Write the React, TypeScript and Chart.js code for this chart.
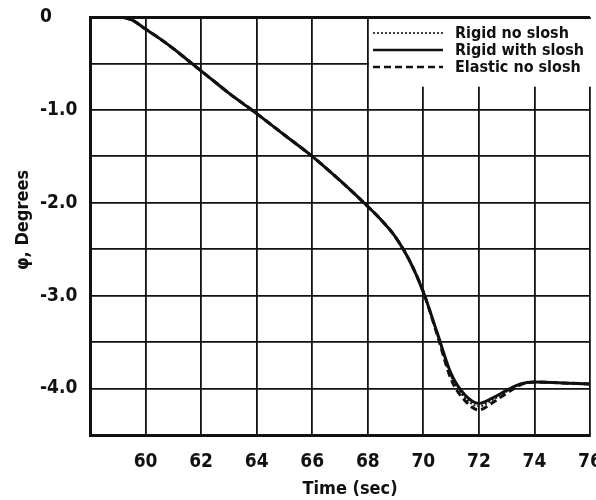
import React, { useEffect, useRef } from "react";
import { Chart, registerables } from "chart.js";

Chart.register(...registerables);

// ---- data ----
const timeSec = [58, 59, 59.5, 60, 60.5, 61, 61.5, 62, 62.5, 63, 63.5, 64, 65, 66, 67, 68, 68.5, 69, 69.5, 70, 70.5, 71, 71.5, 72, 72.5, 73, 73.5, 74, 75, 76];
const rigidNoSlosh = [0, 0, -0.03, -0.13, -0.23, -0.34, -0.46, -0.58, -0.7, -0.82, -0.93, -1.04, -1.27, -1.5, -1.76, -2.04, -2.19, -2.37, -2.62, -2.96, -3.42, -3.87, -4.1, -4.19, -4.12, -4.03, -3.95, -3.93, -3.94, -3.95];
const rigidWithSlosh = [0, 0, -0.03, -0.13, -0.23, -0.34, -0.46, -0.58, -0.7, -0.82, -0.93, -1.04, -1.27, -1.5, -1.76, -2.04, -2.19, -2.37, -2.62, -2.96, -3.4, -3.84, -4.07, -4.16, -4.1, -4.02, -3.95, -3.93, -3.94, -3.95];
const elasticNoSlosh = [0, 0, -0.03, -0.13, -0.23, -0.34, -0.46, -0.58, -0.7, -0.82, -0.93, -1.04, -1.27, -1.5, -1.76, -2.04, -2.19, -2.37, -2.62, -2.96, -3.42, -3.9, -4.13, -4.23, -4.15, -4.05, -3.96, -3.93, -3.94, -3.95];

const seriesLabels = ["Rigid no slosh", "Rigid with slosh", "Elastic no slosh"];
const xTickValues = [60, 62, 64, 66, 68, 70, 72, 74, 76];
const yTickValues = [0, -1, -2, -3, -4];
const yTickLabels = ["0", "-1.0", "-2.0", "-3.0", "-4.0"];
const xTitle = "Time (sec)";
const yTitle = "\u03C6, Degrees";

const FONT = "'DejaVu Sans', sans-serif";
const INK = "#111111";

const titlesAndLegend = {
  id: "titlesAndLegend",
  afterDatasetsDraw(chart: any) {
    const { ctx, chartArea, scales } = chart;
    const xs = scales.x;
    const ys = scales.y;
    ctx.save();
    // legend box (white, covering grid)
    const bx = xs.getPixelForValue(68) + 1.2;
    const by = chartArea.top + 2;
    const bb = ys.getPixelForValue(-0.75);
    ctx.fillStyle = "#ffffff";
    ctx.fillRect(bx, by, chart.width - bx, bb - by);
    const ds = chart.data.datasets;
    ctx.font = `bold condensed 16px ${FONT}`;
    ctx.textBaseline = "middle";
    ctx.textAlign = "left";
    for (let i = 0; i < ds.length; i++) {
      const y = by + 14 + i * 17;
      ctx.beginPath();
      ctx.strokeStyle = INK;
      ctx.lineWidth = i === 0 ? 1.6 : 2.6;
      ctx.setLineDash(ds[i].borderDash || []);
      ctx.moveTo(bx + 4, y);
      ctx.lineTo(bx + 74, y);
      ctx.stroke();
      ctx.setLineDash([]);
      ctx.fillStyle = INK;
      ctx.fillText(ds[i].label, bx + 86, y + 1);
    }
    ctx.restore();
  },
  afterDraw(chart: any) {
    const { ctx } = chart;
    ctx.save();
    ctx.fillStyle = INK;
    ctx.font = `bold condensed 18px ${FONT}`;
    ctx.textAlign = "center";
    ctx.textBaseline = "middle";
    ctx.fillText(xTitle, 350, 489);
    ctx.translate(23, 220);
    ctx.rotate(-Math.PI / 2);
    ctx.fillText(yTitle, 0, 0);
    ctx.restore();
  },
};

export default function App() {
  const ref = useRef<HTMLCanvasElement>(null);
  useEffect(() => {
    if (!ref.current) return;
    const chart = new Chart(ref.current, {
      type: "line",
      data: {
        datasets: [
          {
            label: seriesLabels[0],
            data: timeSec.map((t, i) => ({ x: t, y: rigidNoSlosh[i] })),
            borderColor: INK,
            borderWidth: 2,
            borderDash: [2, 2],
            pointRadius: 0,
            cubicInterpolationMode: "monotone",
          },
          {
            label: seriesLabels[1],
            data: timeSec.map((t, i) => ({ x: t, y: rigidWithSlosh[i] })),
            borderColor: INK,
            borderWidth: 3,
            pointRadius: 0,
            cubicInterpolationMode: "monotone",
          },
          {
            label: seriesLabels[2],
            data: timeSec.map((t, i) => ({ x: t, y: elasticNoSlosh[i] })),
            borderColor: INK,
            borderWidth: 3,
            borderDash: [7, 4],
            pointRadius: 0,
            cubicInterpolationMode: "monotone",
          },
        ],
      },
      options: {
        animation: false,
        responsive: false,
        layout: { padding: { left: 40, top: 17, right: 6, bottom: 0 } },
        plugins: { legend: { display: false }, tooltip: { enabled: false } },
        scales: {
          x: {
            type: "linear",
            min: 58,
            max: 76,
            afterBuildTicks: (s: any) => {
              s.ticks = [58, ...xTickValues].map((v) => ({ value: v }));
            },
            afterFit: (s: any) => {
              s.height = 65;
              s.paddingLeft = 0;
              s.paddingRight = 0;
            },
            grid: {
              color: INK,
              lineWidth: 1.8,
              drawTicks: false,
            },
            border: { color: INK, width: 3 },
            ticks: {
              color: INK,
              padding: 16,
              maxRotation: 0,
              autoSkip: false,
              font: { family: FONT, size: 19, weight: "bold condensed" },
              callback: (v: any) => (xTickValues.includes(v) ? String(v) : ""),
            },
          },
          y: {
            type: "linear",
            min: -4.5,
            max: 0,
            afterBuildTicks: (s: any) => {
              const vals: number[] = [];
              for (let k = 0; k <= 9; k++) vals.push(-k * 0.5);
              s.ticks = vals.map((v) => ({ value: v }));
            },
            afterFit: (s: any) => {
              s.width = 50;
              s.paddingTop = 0;
              s.paddingBottom = 0;
            },
            grid: {
              color: INK,
              lineWidth: (c: any) => (c.tick && c.tick.value === 0 ? 3 : 1.8),
              drawTicks: false,
            },
            border: { color: INK, width: 3 },
            ticks: {
              color: INK,
              padding: 10,
              crossAlign: "far",
              autoSkip: false,
              font: { family: FONT, size: 19, weight: "bold condensed" },
              callback: (v: any) => {
                const idx = yTickValues.findIndex((t) => Math.abs(t - v) < 1e-6);
                return idx >= 0 ? yTickLabels[idx] : "";
              },
            },
          },
        },
      },
      plugins: [titlesAndLegend],
    });
    return () => chart.destroy();
  }, []);
  return (
    <div style={{ position: "fixed", left: 0, top: 0, width: 596, height: 500, background: "#fff" }}>
      <canvas ref={ref} width={596} height={500} style={{ display: "block" }} />
    </div>
  );
}
